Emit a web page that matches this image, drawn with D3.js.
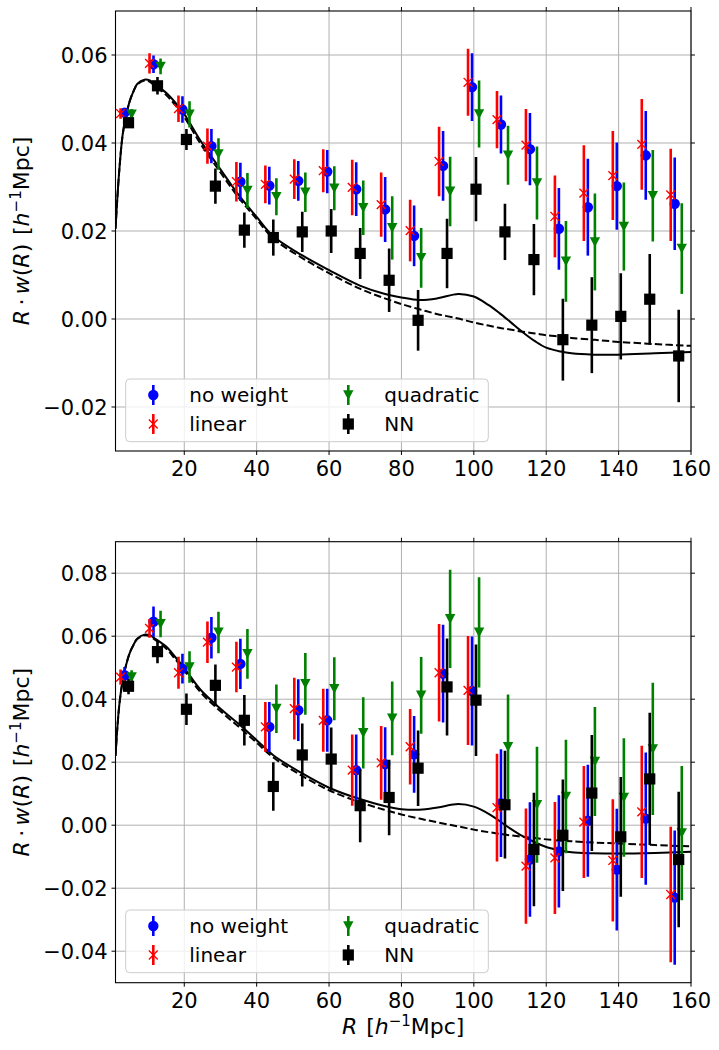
<!DOCTYPE html>
<html>
<head>
<meta charset="utf-8">
<script src="https://cdn.jsdelivr.net/npm/d3@7"></script>
<style>
  body { margin: 0; background: #fff; }
  text { font-family: "DejaVu Sans", sans-serif; }
</style>
</head>
<body>
<svg id="chart" width="719" height="1050"></svg>
<script>
// bin centres of the "no weight" points, other estimators are shifted slightly
const rBins = [3.5, 11.5, 19.5, 27.5, 35.5, 43.5, 51.5, 59.5, 67.5, 75.5,
               83.5, 91.5, 99.5, 107.5, 115.5, 123.5, 131.5, 139.5, 147.5, 155.5];
const shiftLinear = -1.1, shiftQuad = 1.95, shiftNN = 1.1;

// top panel
const noWeightTop    = [0.0469, 0.0579, 0.0476, 0.0393, 0.0312, 0.0303, 0.0314, 0.0335, 0.0295, 0.0249, 0.0189, 0.0348, 0.0527, 0.0442, 0.0386, 0.0205, 0.0254, 0.0302, 0.0372, 0.0262];
const noWeightTopErr = [0.0010, 0.0020, 0.0030, 0.0039, 0.0043, 0.0043, 0.0045, 0.0049, 0.0061, 0.0074, 0.0069, 0.0079, 0.0077, 0.0066, 0.0082, 0.0093, 0.0110, 0.0099, 0.0101, 0.0105];
const linearTop      = [0.0467, 0.0581, 0.0478, 0.0393, 0.0312, 0.0306, 0.0318, 0.0337, 0.0299, 0.0260, 0.0201, 0.0358, 0.0538, 0.0453, 0.0395, 0.0233, 0.0286, 0.0326, 0.0397, 0.0282];
const linearTopErr   = [0.0012, 0.0023, 0.0030, 0.0040, 0.0045, 0.0043, 0.0045, 0.0049, 0.0063, 0.0073, 0.0070, 0.0079, 0.0076, 0.0065, 0.0082, 0.0093, 0.0109, 0.0101, 0.0103, 0.0105];
const quadTop        = [0.0465, 0.0574, 0.0465, 0.0375, 0.0292, 0.0278, 0.0288, 0.0297, 0.0253, 0.0207, 0.0139, 0.0290, 0.0466, 0.0372, 0.0309, 0.0131, 0.0175, 0.0210, 0.0280, 0.0160];
const quadTopErr     = [0.0012, 0.0018, 0.0030, 0.0036, 0.0040, 0.0042, 0.0045, 0.0050, 0.0062, 0.0072, 0.0068, 0.0079, 0.0076, 0.0067, 0.0083, 0.0092, 0.0110, 0.0100, 0.0104, 0.0103];
const nnTop          = [0.0446, 0.0530, 0.0408, 0.0302, 0.0202, 0.0185, 0.0198, 0.0200, 0.0149, 0.0088, -0.0003, 0.0149, 0.0295, 0.0198, 0.0135, -0.0047, -0.0014, 0.0006, 0.0045, -0.0084];
const nnTopErr       = [0.0012, 0.0020, 0.0024, 0.0040, 0.0040, 0.0041, 0.0046, 0.0050, 0.0058, 0.0072, 0.0069, 0.0079, 0.0073, 0.0064, 0.0081, 0.0093, 0.0109, 0.0098, 0.0103, 0.0105];

// bottom panel
const noWeightBot    = [0.0476, 0.0646, 0.0497, 0.0595, 0.0512, 0.0312, 0.0365, 0.0333, 0.0175, 0.0194, 0.0225, 0.0481, 0.0426, 0.0070, -0.0109, -0.0083, 0.0014, -0.0141, 0.0021, -0.0230];
const noWeightBotErr = [0.0026, 0.0048, 0.0047, 0.0066, 0.0080, 0.0079, 0.0098, 0.0100, 0.0113, 0.0117, 0.0122, 0.0155, 0.0173, 0.0171, 0.0182, 0.0178, 0.0178, 0.0193, 0.0210, 0.0213];
const linearBot      = [0.0470, 0.0625, 0.0484, 0.0581, 0.0502, 0.0312, 0.0370, 0.0333, 0.0175, 0.0198, 0.0249, 0.0484, 0.0428, 0.0056, -0.0130, -0.0104, 0.0010, -0.0112, 0.0042, -0.0220];
const linearBotErr   = [0.0024, 0.0030, 0.0051, 0.0066, 0.0080, 0.0079, 0.0098, 0.0100, 0.0113, 0.0117, 0.0120, 0.0155, 0.0173, 0.0171, 0.0183, 0.0178, 0.0178, 0.0194, 0.0210, 0.0215];
const quadBot        = [0.0470, 0.0639, 0.0502, 0.0612, 0.0544, 0.0370, 0.0449, 0.0433, 0.0293, 0.0339, 0.0412, 0.0655, 0.0612, 0.0249, 0.0065, 0.0091, 0.0202, 0.0088, 0.0242, -0.0025];
const quadBotErr     = [0.0022, 0.0042, 0.0050, 0.0066, 0.0079, 0.0077, 0.0098, 0.0100, 0.0113, 0.0117, 0.0122, 0.0156, 0.0175, 0.0166, 0.0184, 0.0180, 0.0173, 0.0188, 0.0210, 0.0213];
const nnBot          = [0.0441, 0.0551, 0.0368, 0.0444, 0.0333, 0.0123, 0.0223, 0.0210, 0.0062, 0.0088, 0.0181, 0.0439, 0.0397, 0.0065, -0.0077, -0.0032, 0.0102, -0.0037, 0.0147, -0.0109];
const nnBotErr       = [0.0025, 0.0037, 0.0050, 0.0066, 0.0080, 0.0077, 0.0100, 0.0100, 0.0116, 0.0120, 0.0120, 0.0154, 0.0177, 0.0171, 0.0180, 0.0177, 0.0184, 0.0190, 0.0210, 0.0215];

// model curves (solid / dashed), sampled at curveR
const curveR = [1, 2, 3, 4, 5, 6, 7, 9, 10.5, 12, 15, 17.5, 20, 24.5, 30, 35, 40, 44.6, 52.5, 60, 68.5, 75, 80, 85, 90, 95.7, 100, 104, 107, 110, 113.5, 117, 120, 124, 127, 133, 140, 150, 160];
const solidTop  = [0.0205, 0.0333, 0.0420, 0.0465, 0.0497, 0.0518, 0.0534, 0.0544, 0.0542, 0.0533, 0.0514, 0.0492, 0.0466, 0.0405, 0.0340, 0.0282, 0.0232, 0.0188, 0.0145, 0.0111, 0.0076, 0.0058, 0.0049, 0.0043, 0.0047, 0.0057, 0.0051, 0.0032, 0.0014, -0.0006, -0.0030, -0.0051, -0.0065, -0.0074, -0.0078, -0.0081, -0.0081, -0.0078, -0.0075];
const dashedTop = [0.0205, 0.0333, 0.0420, 0.0465, 0.0497, 0.0518, 0.0533, 0.0542, 0.0539, 0.0529, 0.0509, 0.0486, 0.0459, 0.0398, 0.0333, 0.0276, 0.0227, 0.0183, 0.0139, 0.0104, 0.0069, 0.0048, 0.0034, 0.0022, 0.0011, 0.0001, -0.0008, -0.0015, -0.0020, -0.0024, -0.0029, -0.0033, -0.0037, -0.0040, -0.0043, -0.0047, -0.0052, -0.0057, -0.0061];
const solidBot  = [0.0220, 0.0376, 0.0460, 0.0512, 0.0549, 0.0573, 0.0592, 0.0605, 0.0603, 0.0592, 0.0567, 0.0534, 0.0499, 0.0430, 0.0370, 0.0322, 0.0270, 0.0222, 0.0165, 0.0119, 0.0083, 0.0062, 0.0051, 0.0049, 0.0056, 0.0067, 0.0059, 0.0037, 0.0014, -0.0010, -0.0035, -0.0055, -0.0069, -0.0080, -0.0086, -0.0089, -0.0090, -0.0088, -0.0084];
const dashedBot = [0.0220, 0.0376, 0.0460, 0.0512, 0.0549, 0.0573, 0.0591, 0.0603, 0.0600, 0.0588, 0.0561, 0.0527, 0.0491, 0.0422, 0.0362, 0.0313, 0.0262, 0.0215, 0.0157, 0.0111, 0.0073, 0.0050, 0.0034, 0.0021, 0.0009, -0.0004, -0.0014, -0.0022, -0.0027, -0.0032, -0.0037, -0.0041, -0.0045, -0.0049, -0.0051, -0.0055, -0.0058, -0.0063, -0.0067];

const xTicks = [20, 40, 60, 80, 100, 120, 140, 160];
const yTicksTop = [-0.02, 0.00, 0.02, 0.04, 0.06];
const yTicksBot = [-0.04, -0.02, 0.00, 0.02, 0.04, 0.06, 0.08];

const width = 719, height = 1050;
const left = 115.5, right = 691;
const svg = d3.select("#chart");

const x = d3.scaleLinear().domain([1, 160]).range([left, right]);
const fmtY = v => d3.format(".2f")(v).replace("-", "\u2212");

const styles = {
  none:   { color: "#0000ff", label: "no weight", shift: 0 },
  linear: { color: "#ff0000", label: "linear", shift: shiftLinear },
  quad:   { color: "#008000", label: "quadratic", shift: shiftQuad },
  nn:     { color: "#000000", label: "NN", shift: shiftNN }
};

function drawMarker(g, kind, color) {
  if (kind === "none") {
    g.append("circle").attr("r", 5.2).attr("fill", color);
  } else if (kind === "linear") {
    g.append("path").attr("d", "M-4.4,-4.4L4.4,4.4M-4.4,4.4L4.4,-4.4")
      .attr("stroke", color).attr("stroke-width", 1.4).attr("fill", "none");
  } else if (kind === "quad") {
    g.append("path").attr("d", "M-5.2,-4.8L5.2,-4.8L0,5Z").attr("fill", color);
  } else {
    g.append("rect").attr("x", -5.6).attr("y", -5.6).attr("width", 11.2).attr("height", 11.2).attr("fill", color);
  }
}

function mathUnits(t) {
  t.append("tspan").attr("font-style", "italic").text("h");
  t.append("tspan").attr("font-size", "15px").attr("dy", "-0.55em").text("\u22121");
  t.append("tspan").attr("dy", "0.38em").text("Mpc]");
}

function drawPanel(cfg, idx) {
  const y = d3.scaleLinear().domain(cfg.yDomain).range([cfg.bottom, cfg.top]);
  const g = svg.append("g");

  // grid
  g.append("g").selectAll("line").data(xTicks).join("line")
    .attr("x1", d => x(d)).attr("x2", d => x(d))
    .attr("y1", cfg.top).attr("y2", cfg.bottom)
    .attr("stroke", "#b0b0b0").attr("stroke-width", 1);
  g.append("g").selectAll("line").data(cfg.yTicks).join("line")
    .attr("x1", left).attr("x2", right)
    .attr("y1", d => y(d)).attr("y2", d => y(d))
    .attr("stroke", "#b0b0b0").attr("stroke-width", 1);

  const clipId = "clip" + idx;
  svg.append("clipPath").attr("id", clipId).append("rect")
    .attr("x", left).attr("y", cfg.top).attr("width", right - left).attr("height", cfg.bottom - cfg.top);
  const plot = g.append("g").attr("clip-path", `url(#${clipId})`);

  // model curves
  const line = d3.line().x((d, i) => x(curveR[i])).y(d => y(d)).curve(d3.curveCatmullRom.alpha(0.5));
  plot.append("path").attr("d", line(cfg.dashed)).attr("fill", "none")
    .attr("stroke", "#000").attr("stroke-width", 2).attr("stroke-dasharray", "7.4,3.2");
  plot.append("path").attr("d", line(cfg.solid)).attr("fill", "none")
    .attr("stroke", "#000").attr("stroke-width", 2);

  // errorbars
  cfg.series.forEach(s => {
    const st = styles[s.kind];
    const sg = plot.append("g");
    const pts = s.vals.map((v, i) => ({ r: rBins[i] + st.shift, v: v, e: s.errs[i] }));
    sg.selectAll("line").data(pts).join("line")
      .attr("x1", d => x(d.r)).attr("x2", d => x(d.r))
      .attr("y1", d => y(d.v - d.e)).attr("y2", d => y(d.v + d.e))
      .attr("stroke", st.color).attr("stroke-width", 2.6);
    sg.selectAll("g.m").data(pts).join("g").attr("class", "m")
      .attr("transform", d => `translate(${x(d.r)},${y(d.v)})`)
      .each(function () { drawMarker(d3.select(this), s.kind, st.color); });
  });

  // frame
  g.append("rect").attr("x", left).attr("y", cfg.top)
    .attr("width", right - left).attr("height", cfg.bottom - cfg.top)
    .attr("fill", "none").attr("stroke", "#000").attr("stroke-width", 1.1);

  // ticks on all four sides, labels left / bottom
  const tk = g.append("g").attr("stroke", "#000").attr("stroke-width", 1);
  xTicks.forEach(t => {
    tk.append("line").attr("x1", x(t)).attr("x2", x(t)).attr("y1", cfg.bottom).attr("y2", cfg.bottom + 4);
    tk.append("line").attr("x1", x(t)).attr("x2", x(t)).attr("y1", cfg.top).attr("y2", cfg.top - 4);
  });
  cfg.yTicks.forEach(t => {
    tk.append("line").attr("x1", left).attr("x2", left - 4).attr("y1", y(t)).attr("y2", y(t));
    tk.append("line").attr("x1", right).attr("x2", right + 4).attr("y1", y(t)).attr("y2", y(t));
  });
  g.append("g").selectAll("text").data(xTicks).join("text")
    .attr("x", d => x(d)).attr("y", cfg.bottom + 25)
    .attr("text-anchor", "middle").attr("font-size", "21px").attr("fill", "#000")
    .text(d => d);
  g.append("g").selectAll("text").data(cfg.yTicks).join("text")
    .attr("x", left - 8).attr("y", d => y(d)).attr("dy", "0.36em")
    .attr("text-anchor", "end").attr("font-size", "21px").attr("fill", "#000")
    .text(d => fmtY(d));

  // y label: R · w(R) [h^-1 Mpc]
  const yl = g.append("text")
    .attr("transform", `translate(29,${(cfg.top + cfg.bottom) / 2}) rotate(-90)`)
    .attr("text-anchor", "middle").attr("font-size", "22px").attr("fill", "#000");
  yl.append("tspan").attr("font-style", "italic").text("R");
  yl.append("tspan").text("\u2009\u00b7\u2009");
  yl.append("tspan").attr("font-style", "italic").text("w");
  yl.append("tspan").text("(");
  yl.append("tspan").attr("font-style", "italic").text("R");
  yl.append("tspan").text(")\u2009\u2009[");
  mathUnits(yl);

  // legend
  const lg = g.append("g");
  lg.append("rect").attr("x", 125.7).attr("y", cfg.legendTop).attr("width", 362.6).attr("height", 62.7)
    .attr("rx", 4).attr("fill", "#fff").attr("fill-opacity", 0.8)
    .attr("stroke", "#cccccc").attr("stroke-width", 1);
  const entries = [
    { kind: "none", col: 0, row: 0 }, { kind: "linear", col: 0, row: 1 },
    { kind: "quad", col: 1, row: 0 }, { kind: "nn", col: 1, row: 1 }
  ];
  entries.forEach(en => {
    const st = styles[en.kind];
    const mx = en.col === 0 ? 153.3 : 348.3;
    const tx = en.col === 0 ? 189.3 : 384.3;
    const my = cfg.legendTop + 16 + en.row * 29;
    lg.append("line").attr("x1", mx).attr("x2", mx).attr("y1", my - 10).attr("y2", my + 10)
      .attr("stroke", st.color).attr("stroke-width", 2.6);
    drawMarker(lg.append("g").attr("transform", `translate(${mx},${my})`), en.kind, st.color);
    lg.append("text").attr("x", tx).attr("y", my).attr("dy", "0.36em")
      .attr("font-size", "20px").attr("fill", "#000").text(st.label);
  });

  if (cfg.xlabel) {
    const xl = svg.append("text").attr("x", (left + right) / 2).attr("y", 1034)
      .attr("text-anchor", "middle").attr("font-size", "22px").attr("fill", "#000");
    xl.append("tspan").attr("font-style", "italic").text("R");
    xl.append("tspan").text("\u2009\u2009[");
    mathUnits(xl);
  }
}

const panels = [
  {
    top: 11, bottom: 451, yDomain: [-0.03, 0.07], yTicks: yTicksTop, legendTop: 379, xlabel: false,
    solid: solidTop, dashed: dashedTop,
    series: [
      { kind: "none", vals: noWeightTop, errs: noWeightTopErr },
      { kind: "linear", vals: linearTop, errs: linearTopErr },
      { kind: "quad", vals: quadTop, errs: quadTopErr },
      { kind: "nn", vals: nnTop, errs: nnTopErr }
    ]
  },
  {
    top: 541.7, bottom: 982.7, yDomain: [-0.05, 0.09], yTicks: yTicksBot, legendTop: 910, xlabel: true,
    solid: solidBot, dashed: dashedBot,
    series: [
      { kind: "none", vals: noWeightBot, errs: noWeightBotErr },
      { kind: "linear", vals: linearBot, errs: linearBotErr },
      { kind: "quad", vals: quadBot, errs: quadBotErr },
      { kind: "nn", vals: nnBot, errs: nnBotErr }
    ]
  }
];

panels.forEach((p, i) => drawPanel(p, i));
</script>
</body>
</html>
